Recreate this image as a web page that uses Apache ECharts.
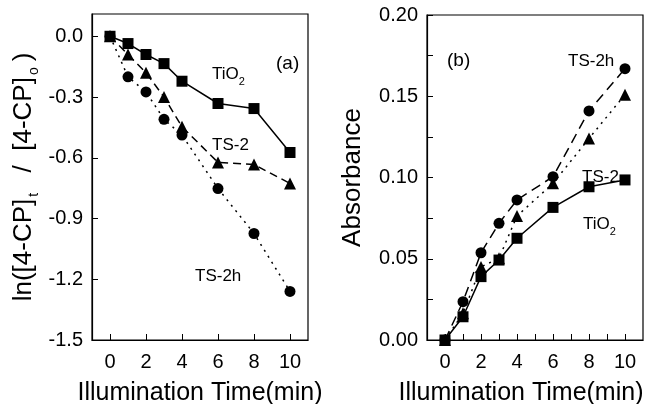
<!DOCTYPE html>
<html><head><meta charset="utf-8">
<script src="https://cdn.jsdelivr.net/npm/echarts@6/dist/echarts.min.js"></script>
<style>html,body{margin:0;padding:0;background:#fff}#c{width:647px;height:404px}</style>
</head><body><div id="c"></div>
<script>
const times = [0, 1, 2, 3, 4, 6, 8, 10];
// Panel (a): ln([4-CP]t/[4-CP]o)
const aTiO2 = [0, -0.036, -0.09, -0.135, -0.222, -0.332, -0.357, -0.574];
const aTS2  = [0, -0.09, -0.18, -0.30, -0.447, -0.623, -0.633, -0.727];
const aTS2h = [0, -0.20, -0.275, -0.41, -0.488, -0.752, -0.974, -1.26];
// Panel (b): Absorbance
const bTiO2 = [0, 0.0143, 0.039, 0.0492, 0.0626, 0.0816, 0.0943, 0.0985];
const bTS2  = [0, 0.0164, 0.045, 0.0503, 0.0763, 0.0964, 0.124, 0.151];
const bTS2h = [0, 0.0236, 0.0537, 0.0718, 0.0862, 0.1005, 0.141, 0.167];
const xTicksA = [0, 2, 4, 6, 8, 10];
const xTicksB = [0, 1, 2, 3, 4, 5, 6, 7, 8, 9, 10];
const yTicksA = [-1.5, -1.2, -0.9, -0.6, -0.3, 0.0];
const yLabelsB = [0, 0.05, 0.10, 0.15, 0.20];
const yTicksB = [0, 0.025, 0.05, 0.075, 0.10, 0.125, 0.15, 0.175, 0.20];

const FONT = '"Liberation Sans", Arial, Helvetica, sans-serif';
const pairs = arr => times.map((t, i) => [t, arr[i]]);

function ser(name, data, xi, symbol, lineType) {
  return {
    name, type: 'line', xAxisIndex: xi, yAxisIndex: xi, data: pairs(data),
    symbol, symbolSize: symbol === 'triangle' ? 12 : 11,
    showAllSymbol: true,
    itemStyle: { color: '#000' },
    lineStyle: { color: '#000', width: 1.5, type: lineType },
    emphasis: { disabled: true }, animation: false
  };
}

const axisCommon = {
  axisLine: { show: true, onZero: false, lineStyle: { color: '#000', width: 1.2 } },
  splitLine: { show: false },
  axisLabel: { color: '#000', fontSize: 20, fontFamily: FONT },
  nameTextStyle: { color: '#000', fontSize: 25, fontFamily: FONT },
};

const dashed = [8, 5];
const dotted = [2, 5];

const chart = echarts.init(document.getElementById('c'), null, { renderer: 'canvas' });
chart.setOption({
  animation: false,
  grid: [
    { left: 92, right: 339, top: 14, bottom: 64, show: true, borderColor: '#000', borderWidth: 1.2, outerBoundsMode: 'none', containLabel: false },
    { left: 427, right: 4, top: 15, bottom: 64, show: true, borderColor: '#000', borderWidth: 1.2, outerBoundsMode: 'none', containLabel: false }
  ],
  xAxis: [
    Object.assign({}, axisCommon, {
      gridIndex: 0, type: 'value', min: -1, max: 11,
      axisTick: { show: true, inside: true, length: 6, customValues: xTicksA, lineStyle: { color: '#000' } },
      axisLabel: Object.assign({}, axisCommon.axisLabel, { customValues: xTicksA, margin: 12 }),
      name: 'Illumination Time(min)', nameLocation: 'middle', nameGap: 41
    }),
    Object.assign({}, axisCommon, {
      gridIndex: 1, type: 'value', min: -1, max: 11,
      axisTick: { show: true, inside: true, length: 6, customValues: xTicksB, lineStyle: { color: '#000' } },
      axisLabel: Object.assign({}, axisCommon.axisLabel, { customValues: xTicksA, margin: 12 }),
      name: 'Illumination Time(min)', nameLocation: 'middle', nameGap: 41,
      nameTextStyle: { color: '#000', fontSize: 25, fontFamily: FONT, padding: [0, 28, 0, 0] }
    })
  ],
  yAxis: [
    Object.assign({}, axisCommon, {
      gridIndex: 0, type: 'value', min: -1.5, max: 0.11,
      axisTick: { show: true, inside: true, length: 6, customValues: yTicksA, lineStyle: { color: '#000' } },
      axisLabel: Object.assign({}, axisCommon.axisLabel, { customValues: yTicksA, margin: 9,
        formatter: v => v.toFixed(1) }),
      name: '{m|ln([4-CP]}{s|t}{m|  /  [4-CP]}{s|o}{m|)}', nameLocation: 'middle', nameGap: 55,
      nameTextStyle: { color: '#000', fontSize: 26, fontFamily: FONT,
        rich: { m: { fontSize: 26, fontFamily: FONT, color: '#000', verticalAlign: 'bottom' },
                s: { fontSize: 14, fontFamily: FONT, color: '#000', verticalAlign: 'bottom', padding: [0, 6, -4, 2] } } }
    }),
    Object.assign({}, axisCommon, {
      gridIndex: 1, type: 'value', min: 0, max: 0.2,
      axisTick: { show: true, inside: true, length: 6, customValues: yTicksB, lineStyle: { color: '#000' } },
      axisLabel: Object.assign({}, axisCommon.axisLabel, { customValues: yLabelsB, margin: 9,
        formatter: v => v.toFixed(2) }),
      name: 'Absorbance', nameLocation: 'middle', nameGap: 61,
      nameTextStyle: { color: '#000', fontSize: 26, fontFamily: FONT }
    })
  ],
  series: [
    ser('TiO2', aTiO2, 0, 'rect', 'solid'),
    ser('TS-2', aTS2, 0, 'triangle', dashed),
    ser('TS-2h', aTS2h, 0, 'circle', dotted),
    ser('TiO2', bTiO2, 1, 'rect', 'solid'),
    ser('TS-2', bTS2, 1, 'triangle', dotted),
    ser('TS-2h', bTS2h, 1, 'circle', [10, 6])
  ],
  graphic: [
    { type: 'text', left: 276, top: 54, style: { text: '(a)', fontSize: 19, fontFamily: FONT, fill: '#000' } },
    { type: 'text', left: 212, top: 66, style: { text: '{m|TiO}{s|2}', fill: '#000',
        rich: { m: { fontSize: 17, fontFamily: FONT, verticalAlign: 'bottom' }, s: { fontSize: 11, fontFamily: FONT, verticalAlign: 'bottom', padding: [0, 0, -4, 0] } } } },
    { type: 'text', left: 212, top: 137, style: { text: 'TS-2', fontSize: 17, fontFamily: FONT, fill: '#000' } },
    { type: 'text', left: 195, top: 268, style: { text: 'TS-2h', fontSize: 17, fontFamily: FONT, fill: '#000' } },
    { type: 'text', left: 447, top: 51, style: { text: '(b)', fontSize: 19, fontFamily: FONT, fill: '#000' } },
    { type: 'text', left: 568, top: 53, style: { text: 'TS-2h', fontSize: 17, fontFamily: FONT, fill: '#000' } },
    { type: 'text', left: 582, top: 169, style: { text: 'TS-2', fontSize: 17, fontFamily: FONT, fill: '#000' } },
    { type: 'text', left: 583, top: 216, style: { text: '{m|TiO}{s|2}', fill: '#000',
        rich: { m: { fontSize: 17, fontFamily: FONT, verticalAlign: 'bottom' }, s: { fontSize: 11, fontFamily: FONT, verticalAlign: 'bottom', padding: [0, 0, -4, 0] } } } }
  ]
});
</script>
</body></html>
